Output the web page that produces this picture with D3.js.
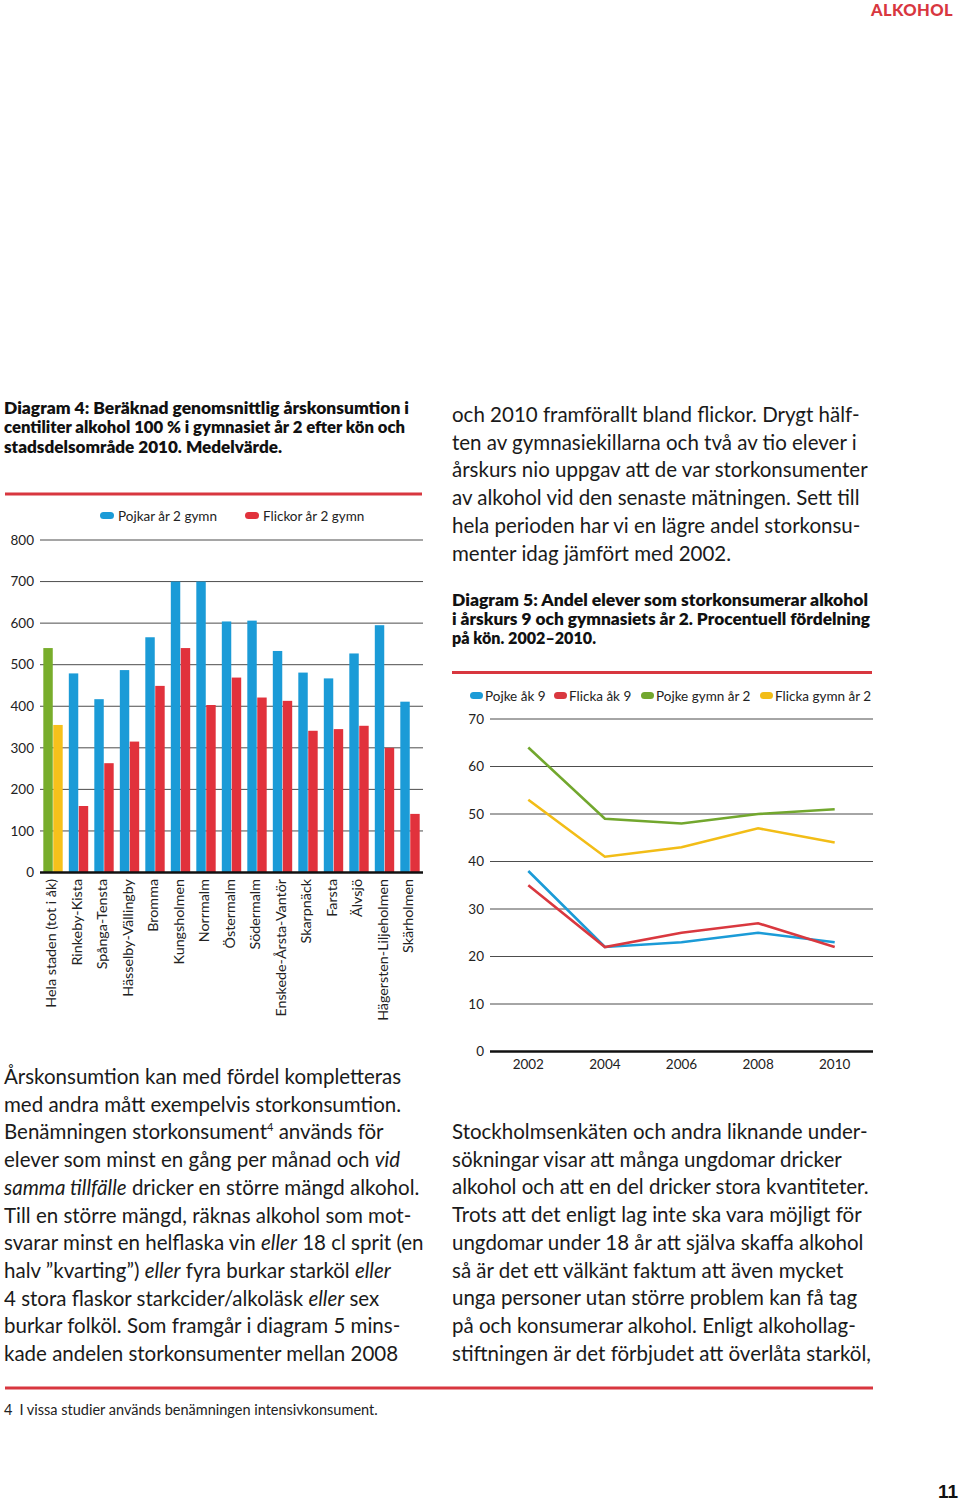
<!DOCTYPE html>
<html>
<head>
<meta charset="utf-8">
<script src="https://cdn.jsdelivr.net/npm/d3@7"></script>
<style>
  body { margin: 0; background: #fff; }
  svg { display: block; font-family: Lato, "Open Sans", sans-serif; }
  .grid line { stroke: #4d4d4d; stroke-width: 1; }
  .tick-label { font-size: 13.5px; fill: #222; }
  .caption { font-size: 16px; font-weight: 800; fill: #111; }
  .body { font-size: 20.5px; fill: #1a1a1a; }
</style>
</head>
<body>
<svg id="page" width="960" height="1502"></svg>
<script>
// Diagram 4: data
var districts = ["Hela staden (tot i åk)", "Rinkeby-Kista", "Spånga-Tensta", "Hässelby-Vällingby",
  "Bromma", "Kungsholmen", "Norrmalm", "Östermalm", "Södermalm", "Enskede-Årsta-Vantör",
  "Skarpnäck", "Farsta", "Älvsjö", "Hägersten-Liljeholmen", "Skärholmen"];
var boys  = [540, 479, 417, 487, 566, 700, 700, 604, 606, 533, 481, 467, 527, 595, 411];
var girls = [355, 160, 263, 315, 449, 540, 403, 469, 421, 413, 341, 345, 353, 300, 141];
var barTicks = [0, 100, 200, 300, 400, 500, 600, 700, 800];
var barSeries = ["Pojkar år 2 gymn", "Flickor år 2 gymn"];

// Diagram 5: data
var years = [2002, 2004, 2006, 2008, 2010];
var pojkeAk9   = [38, 22, 23, 25, 23];
var flickaAk9  = [35, 22, 25, 27, 22];
var pojkeGymn  = [64, 49, 48, 50, 51];
var flickaGymn = [53, 41, 43, 47, 44];
var lineTicks = [0, 10, 20, 30, 40, 50, 60, 70];
var lineSeries = ["Pojke åk 9", "Flicka åk 9", "Pojke gymn år 2", "Flicka gymn år 2"];

var BLUE = "#1b9bd7", RED = "#e1323c", GREEN = "#78ad2b", YELLOW = "#f6c11b", RULE = "#d8373f";

var svg = d3.select("#page");
svg.append("rect").attr("width", 960).attr("height", 1502).attr("fill", "#fff");

// page header / footer
svg.append("text").attr("x", 953).attr("y", 16).attr("text-anchor", "end")
  .style("font-size", "16.5px").style("font-weight", 900).style("fill", RULE).style("letter-spacing", "0.4px")
  .text("ALKOHOL");
svg.append("text").attr("x", 958).attr("y", 1498).attr("text-anchor", "end")
  .style("font-family", "'Liberation Sans', Arial, sans-serif")
  .style("font-size", "19px").style("font-weight", 700).style("fill", "#111")
  .text("11");

function rule(x1, x2, y) {
  svg.append("line").attr("x1", x1).attr("x2", x2).attr("y1", y).attr("y2", y)
    .attr("stroke", RULE).attr("stroke-width", 3);
}

// writes lines of text; each line is a list of [text, style] segments
function textBlock(x, y, lh, cls, lines, widths) {
  var t = svg.append("text").attr("class", cls);
  lines.forEach(function (segs, i) {
    var line = t.append("tspan").attr("x", x).attr("y", y + i * lh);
    if (widths) {
      line.attr("textLength", widths[i]).attr("lengthAdjust", "spacingAndGlyphs");
    }
    segs.forEach(function (s) {
      var sp = line.append("tspan").text(s[0]);
      if (s[1] === "i") { sp.style("font-style", "italic"); }
      if (s[1] === "sup") { sp.attr("dy", -8).style("font-size", "11px"); }
      if (s[1] === "unsup") { sp.attr("dy", 8); }
    });
  });
}

// ---------- Diagram 4 ----------
textBlock(4, 414, 19.3, "caption", [
  [["Diagram 4: Beräknad genomsnittlig årskonsumtion i"]],
  [["centiliter alkohol 100 % i gymnasiet år 2 efter kön och"]],
  [["stadsdelsområde 2010. Medelvärde."]]
], [405, 401, 278]);
rule(5, 422, 494);

var x0 = d3.scaleBand().domain(districts).range([40, 423]).paddingInner(0.24).paddingOuter(0.13);
var x1 = d3.scaleBand().domain(barSeries).range([0, x0.bandwidth()]).paddingInner(0.05);
var y4 = d3.scaleLinear().domain([0, 800]).range([872.5, 540]);

var g4 = svg.append("g");
g4.append("g").attr("class", "grid").selectAll("line")
  .data(barTicks.slice(1)).join("line")
  .attr("x1", 40).attr("x2", 423)
  .attr("y1", function (d) { return y4(d); }).attr("y2", function (d) { return y4(d); });
g4.selectAll("text.ytick").data(barTicks).join("text")
  .attr("class", "tick-label ytick")
  .attr("x", 34).attr("y", function (d) { return y4(d); }).attr("dy", "0.35em")
  .attr("text-anchor", "end").text(function (d) { return d; });

var groups = g4.selectAll("g.grp").data(districts).join("g").attr("class", "grp")
  .attr("transform", function (d) { return "translate(" + x0(d) + ",0)"; });
groups.selectAll("rect").data(function (d, i) {
    return [
      { key: barSeries[0], v: boys[i], c: i === 0 ? GREEN : BLUE },
      { key: barSeries[1], v: girls[i], c: i === 0 ? YELLOW : RED }
    ];
  }).join("rect")
  .attr("x", function (d) { return x1(d.key); })
  .attr("width", x1.bandwidth())
  .attr("y", function (d) { return y4(d.v); })
  .attr("height", function (d) { return y4(0) - y4(d.v); })
  .attr("fill", function (d) { return d.c; });

g4.append("line").attr("x1", 40).attr("x2", 423).attr("y1", y4(0)).attr("y2", y4(0))
  .attr("stroke", "#111").attr("stroke-width", 2.5);

g4.selectAll("text.xlab").data(districts).join("text")
  .attr("class", "tick-label xlab")
  .attr("transform", function (d) {
    return "translate(" + (x0(d) + x0.bandwidth() / 2 - 2) + "," + 879 + ") rotate(-90)";
  })
  .attr("dy", "0.35em").attr("text-anchor", "end")
  .style("font-size", "14.3px")
  .text(function (d) { return d; });

// legend
var leg4 = g4.append("g");
[[100, BLUE], [245, RED]].forEach(function (p, i) {
  leg4.append("rect").attr("x", p[0]).attr("y", 512).attr("width", 14).attr("height", 7)
    .attr("rx", 3.5).attr("fill", p[1]);
  leg4.append("text").attr("class", "tick-label").attr("x", p[0] + 18).attr("y", 516)
    .attr("dy", "0.35em").text(barSeries[i]);
});

// ---------- Diagram 5 ----------
textBlock(452, 606, 19.2, "caption", [
  [["Diagram 5: Andel elever som storkonsumerar alkohol"]],
  [["i årskurs 9 och gymnasiets år 2. Procentuell fördelning"]],
  [["på kön. 2002–2010."]]
], [416, 418, 144]);
rule(452, 872, 672.5);

var x5 = d3.scalePoint().domain(years).range([490, 873]).padding(0.5);
var y5 = d3.scaleLinear().domain([0, 70]).range([1051.5, 719]);

var g5 = svg.append("g");
g5.append("g").attr("class", "grid").selectAll("line")
  .data(lineTicks.slice(1)).join("line")
  .attr("x1", 490).attr("x2", 873)
  .attr("y1", function (d) { return y5(d); }).attr("y2", function (d) { return y5(d); });
g5.append("line").attr("x1", 490).attr("x2", 873).attr("y1", y5(0)).attr("y2", y5(0))
  .attr("stroke", "#111").attr("stroke-width", 2.5);
g5.selectAll("text.ytick").data(lineTicks).join("text")
  .attr("class", "tick-label ytick")
  .attr("x", 484).attr("y", function (d) { return y5(d); }).attr("dy", "0.35em")
  .attr("text-anchor", "end").text(function (d) { return d; });
g5.selectAll("text.xtick").data(years).join("text")
  .attr("class", "tick-label xtick")
  .attr("x", function (d) { return x5(d); }).attr("y", 1069)
  .attr("text-anchor", "middle").text(function (d) { return d; });

var lineData = [
  { name: lineSeries[0], values: pojkeAk9, color: BLUE },
  { name: lineSeries[1], values: flickaAk9, color: "#d9383f" },
  { name: lineSeries[2], values: pojkeGymn, color: "#72a72e" },
  { name: lineSeries[3], values: flickaGymn, color: "#f2bd17" }
];
var line = d3.line()
  .x(function (d, i) { return x5(years[i]); })
  .y(function (d) { return y5(d); });
g5.selectAll("path.series").data(lineData).join("path")
  .attr("class", "series")
  .attr("d", function (d) { return line(d.values); })
  .attr("fill", "none")
  .attr("stroke", function (d) { return d.color; })
  .attr("stroke-width", 2.6);

// legend
var legX = [470, 554, 641, 760];
lineData.forEach(function (s, i) {
  g5.append("rect").attr("x", legX[i]).attr("y", 692).attr("width", 13).attr("height", 7)
    .attr("rx", 3.5).attr("fill", s.color);
  g5.append("text").attr("class", "tick-label").attr("x", legX[i] + 15).attr("y", 696)
    .attr("dy", "0.35em").text(s.name);
});

// ---------- body text ----------
textBlock(452, 422, 27.7, "body", [
  [["och 2010 framförallt bland flickor. Drygt hälf-"]],
  [["ten av gymnasiekillarna och två av tio elever i"]],
  [["årskurs nio uppgav att de var storkonsumenter"]],
  [["av alkohol vid den senaste mätningen. Sett till"]],
  [["hela perioden har vi en lägre andel storkonsu-"]],
  [["menter idag jämfört med 2002."]]
]);

textBlock(4, 1084, 27.7, "body", [
  [["Årskonsumtion kan med fördel kompletteras"]],
  [["med andra mått exempelvis storkonsumtion."]],
  [["Benämningen storkonsument"], ["4", "sup"], [" används för", "unsup"]],
  [["elever som minst en gång per månad och "], ["vid", "i"]],
  [["samma tillfälle", "i"], [" dricker en större mängd alkohol."]],
  [["Till en större mängd, räknas alkohol som mot-"]],
  [["svarar minst en helflaska vin "], ["eller", "i"], [" 18 cl sprit (en"]],
  [["halv ”kvarting”) "], ["eller", "i"], [" fyra burkar starköl "], ["eller", "i"]],
  [["4 stora flaskor starkcider/alkoläsk "], ["eller", "i"], [" sex"]],
  [["burkar folköl. Som framgår i diagram 5 mins-"]],
  [["kade andelen storkonsumenter mellan 2008"]]
]);

textBlock(452, 1139, 27.7, "body", [
  [["Stockholmsenkäten och andra liknande under-"]],
  [["sökningar visar att många ungdomar dricker"]],
  [["alkohol och att en del dricker stora kvantiteter."]],
  [["Trots att det enligt lag inte ska vara möjligt för"]],
  [["ungdomar under 18 år att själva skaffa alkohol"]],
  [["så är det ett välkänt faktum att även mycket"]],
  [["unga personer utan större problem kan få tag"]],
  [["på och konsumerar alkohol. Enligt alkohollag-"]],
  [["stiftningen är det förbjudet att överlåta starköl,"]]
]);

// footnote
rule(5, 873, 1388);
var fn = svg.append("text").attr("x", 4).attr("y", 1415)
  .style("font-size", "14.5px").style("fill", "#222");
fn.append("tspan").text("4");
fn.append("tspan").attr("dx", 7).text("I vissa studier används benämningen intensivkonsument.");
</script>
</body>
</html>
